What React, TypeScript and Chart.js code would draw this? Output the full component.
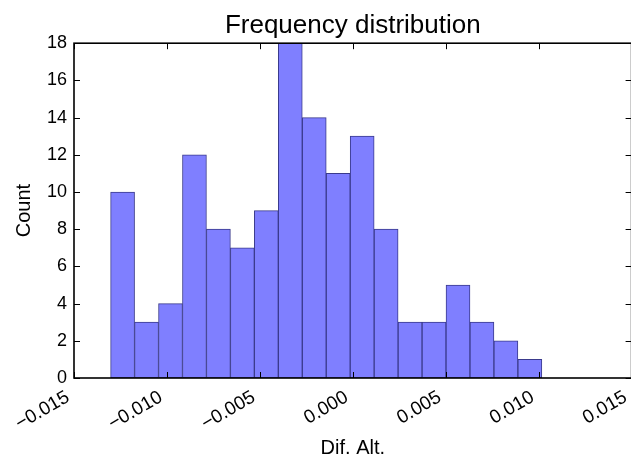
import React, { useEffect, useRef } from "react";
import { Chart, registerables } from "chart.js";

Chart.register(...registerables);

const binCenters = [
  -0.012386, -0.011097, -0.009808, -0.008519, -0.00723, -0.005941, -0.004652,
  -0.003363, -0.002074, -0.000785, 0.000504, 0.001793, 0.003082, 0.004371,
  0.00566, 0.006949, 0.008238, 0.009527,
];
const counts = [10, 3, 4, 12, 8, 7, 9, 18, 14, 11, 13, 8, 3, 3, 5, 3, 2, 1];
const xMin = -0.015;
const xMax = 0.015;
const xStep = 0.005;
const yMin = 0;
const yMax = 18;
const yStep = 2;
const titleText = "Frequency distribution";
const xTitle = "Dif. Alt.";
const yTitle = "Count";

const FONT = "'Liberation Sans', Arial, sans-serif";

const frameTicks = {
  id: "frameTicks",
  afterDatasetsDraw(chart: any) {
    const { ctx, chartArea } = chart;
    const { left, right, top, bottom } = chartArea;
    const xs = chart.scales.x;
    const ys = chart.scales.y;
    const L = 6;
    ctx.save();
    ctx.strokeStyle = "#000";
    ctx.lineWidth = 1;
    ctx.beginPath();
    xs.ticks.forEach((t: any) => {
      const px = Math.round(xs.getPixelForValue(t.value)) + 0.5;
      ctx.moveTo(px, bottom);
      ctx.lineTo(px, bottom - L);
      ctx.moveTo(px, top);
      ctx.lineTo(px, top + L);
    });
    ys.ticks.forEach((t: any) => {
      const py = Math.round(ys.getPixelForValue(t.value)) + 0.5;
      ctx.moveTo(left, py);
      ctx.lineTo(left + L, py);
      ctx.moveTo(right, py);
      ctx.lineTo(right - L, py);
    });
    ctx.stroke();
    ctx.lineWidth = 1.6;
    ctx.strokeRect(left, top, right - left, bottom - top);
    ctx.restore();
  },
};

export default function App() {
  const ref = useRef<HTMLCanvasElement | null>(null);
  useEffect(() => {
    if (!ref.current) return;
    const chart = new Chart(ref.current, {
      type: "bar",
      data: {
        datasets: [
          {
            data: binCenters.map((x, i) => ({ x, y: counts[i] })),
            backgroundColor: "#7f7fff",
            borderColor: "#3a3a8c",
            borderWidth: 1,
            barPercentage: 1,
            categoryPercentage: 1,
            borderSkipped: false,
          } as any,
        ],
      },
      options: {
        animation: false,
        responsive: false,
        maintainAspectRatio: false,
        layout: { padding: { left: 0, right: 0, top: 0, bottom: 0 } },
        plugins: {
          legend: { display: false },
          tooltip: { enabled: false },
          title: {
            display: true,
            fullSize: false,
            text: titleText,
            color: "#000",
            font: { family: FONT, size: 26, weight: "normal" },
            padding: { top: 10, bottom: 2 },
          },
        },
        scales: {
          x: {
            type: "linear",
            min: xMin,
            max: xMax,
            offset: false,
            grid: { display: false, drawTicks: false },
            border: { display: false },
            ticks: {
              stepSize: xStep,
              minRotation: 30,
              maxRotation: 30,
              color: "#000",
              padding: 8,
              labelOffset: -6,
              font: { family: FONT, size: 19 },
              callback: (v: any) => {
                const n = Number(v);
                const s = Math.abs(n) < 1e-9 ? "0.000" : n.toFixed(3);
                return s.replace("-", "\u2212");
              },
            },
            title: {
              display: true,
              text: xTitle,
              color: "#000",
              font: { family: FONT, size: 20 },
              padding: { top: 0, bottom: 0 },
            },
            afterFit: (s: any) => {
              s.height = 82;
            },
          },
          y: {
            min: yMin,
            max: yMax,
            grid: { display: false, drawTicks: false },
            border: { display: false },
            ticks: {
              stepSize: yStep,
              color: "#000",
              padding: 7,
              font: { family: FONT, size: 18 },
            },
            title: {
              display: true,
              text: yTitle,
              color: "#000",
              font: { family: FONT, size: 20 },
              padding: { top: 12, bottom: 0 },
            },
            afterFit: (s: any) => {
              s.width = 74;
            },
          },
        },
      },
      plugins: [frameTicks],
    });
    return () => chart.destroy();
  }, []);
  return (
    <div
      style={{
        position: "absolute",
        left: 0,
        top: 0,
        width: 631,
        height: 460,
        overflow: "hidden",
        background: "#fff",
      }}
    >
      <canvas ref={ref} width={651} height={460} style={{ display: "block" }} />
    </div>
  );
}
